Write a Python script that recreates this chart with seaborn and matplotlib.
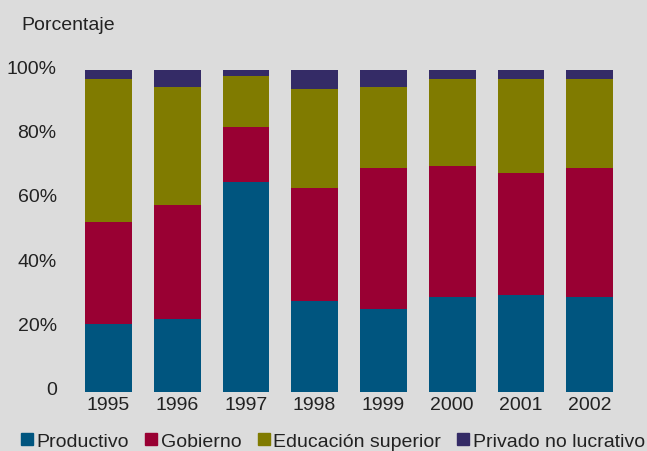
import matplotlib
matplotlib.use("Agg")
import matplotlib.pyplot as plt
import matplotlib.transforms as mtransforms
import seaborn as sns
import numpy as np
import pandas as pd
from matplotlib.lines import Line2D

years = ["1995", "1996", "1997", "1998", "1999", "2000", "2001", "2002"]
productivo = [21.0, 22.7, 65.2, 28.3, 25.8, 29.5, 30.2, 29.5]
gobierno = [31.7, 35.3, 17.2, 35.0, 43.7, 40.7, 37.8, 40.0]
educacion = [44.5, 36.7, 15.7, 30.8, 25.2, 27.0, 29.2, 27.7]
privado = [2.8, 5.3, 1.9, 5.9, 5.3, 2.8, 2.8, 2.8]
series_names = ["Productivo", "Gobierno", "Educación superior", "Privado no lucrativo"]
ytick_vals = [0, 20, 40, 60, 80, 100]
ytick_labels = ["0", "20%", "40%", "60%", "80%", "100%"]

colors = ["#00557f", "#990033", "#807b00", "#342b66"]
bg = "#dcdcdc"
txt = "#222222"
fs = 14

sns.set_theme(style="white")
plt.rcParams['font.family'] = ['Liberation Sans', 'DejaVu Sans']

fig = plt.figure(figsize=(6.47, 4.52), dpi=100, facecolor=bg)
ax = fig.add_axes([74/647, 59.3/452, 550/647, 321.7/452])
ax.set_facecolor(bg)

segs = [productivo, gobierno, educacion, privado]
cum = np.cumsum(np.array(segs), axis=0)
for i in range(3, -1, -1):
    df = pd.DataFrame({"year": years, "val": cum[i]})
    sns.barplot(data=df, x="year", y="val", color=colors[i], saturation=1,
                width=0.68, ax=ax, linewidth=0)

ax.set_xlim(-0.5, 7.5)
ax.set_ylim(0, 100)
ax.set_yticks(ytick_vals)
ax.set_yticklabels(ytick_labels)
ax.set_xlabel("")
ax.set_ylabel("")
for s in ax.spines.values():
    s.set_visible(False)
ax.tick_params(axis="both", length=0, labelsize=fs, colors=txt)
ax.tick_params(axis="y", pad=12.5)
ax.tick_params(axis="x", pad=3)
offset = mtransforms.ScaledTranslation(0, 4/100, fig.dpi_scale_trans)
for lbl in ax.get_yticklabels():
    lbl.set_transform(lbl.get_transform() + offset)

fig.text(21/647, 1 - 30/452, "Porcentaje", fontsize=fs, color=txt, va="baseline", ha="left")

handles = [Line2D([0], [0], marker="s", linestyle="none", markersize=8.6,
                  markerfacecolor=c, markeredgecolor=c) for c in colors]
leg = fig.legend(handles, series_names, loc="center", bbox_to_anchor=(333/647, 1 - 442/452),
                 ncol=4, frameon=False, fontsize=fs, handlelength=0.62, handletextpad=0.2,
                 columnspacing=0.82, borderaxespad=0, borderpad=0)
for t in leg.get_texts():
    t.set_color(txt)

fig.savefig("out.png", dpi=100, facecolor=bg)
